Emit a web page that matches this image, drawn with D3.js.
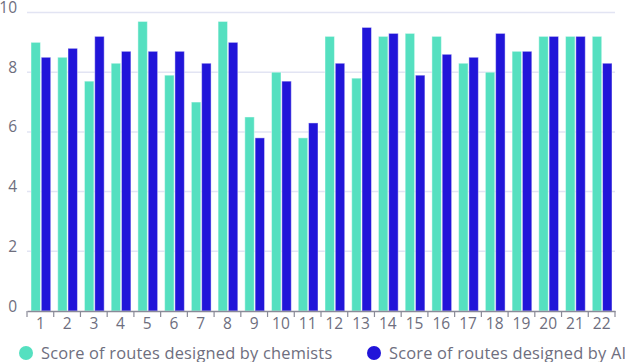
<!DOCTYPE html>
<html>
<head>
<meta charset="UTF-8">
<style>
body { margin: 0; background: white; }
text { font-family: "Open Sans", sans-serif; fill: #6e6e7e; }
</style>
</head>
<body>
<script src="https://d3js.org/d3.v7.min.js"></script>
<script>

// data
var routes = ['1','2','3','4','5','6','7','8','9','10','11','12','13','14','15','16','17','18','19','20','21','22']
var chemists = [9.0, 8.5, 7.7, 8.3, 9.7, 7.9, 7.0, 9.7, 6.5, 8.0, 5.8, 9.2, 7.8, 9.2, 9.3, 9.2, 8.3, 8.0, 8.7, 9.2, 9.2, 9.2]
var ai = [8.5, 8.8, 9.2, 8.7, 8.7, 8.7, 8.3, 9.0, 5.8, 7.7, 6.3, 8.3, 9.5, 9.3, 7.9, 8.6, 8.5, 9.3, 8.7, 9.2, 9.2, 8.3]
var yTicks = [0, 2, 4, 6, 8, 10]
var seriesNames = ['Score of routes designed by chemists', 'Score of routes designed by AI']
var colors = ['#55e0c0', '#2115d9']

var svgWidth = 625,
    svgHeight = 362,
    margin = {top: 12.5, bottom: 51, left: 27, right: 10}

var svg = d3.select('body').append('svg')
    .attr('width', svgWidth)
    .attr('height', svgHeight)

var x = d3.scaleBand()
    .domain(routes)
    .range([margin.left, svgWidth - margin.right])

var inner = d3.scaleBand()
    .domain([0, 1])
    .range([4, x.bandwidth() - 3])
    .paddingInner(0.08)

var y = d3.scaleLinear()
    .domain([0, 10])
    .range([svgHeight - margin.bottom, margin.top])

// gridlines
svg.append('g')
  .selectAll('line')
  .data(yTicks.filter(d => d > 0))
  .join('line')
    .attr('x1', margin.left)
    .attr('x2', svgWidth - margin.right)
    .attr('y1', d => y(d))
    .attr('y2', d => y(d))
    .attr('stroke', '#e2e4f3')
    .attr('stroke-width', 1.5)

// y labels
svg.append('g')
  .selectAll('text')
  .data(yTicks)
  .join('text')
    .attr('x', 17)
    .attr('y', d => y(d) + 0.5)
    .attr('text-anchor', 'end')
    .attr('font-size', 15.5)
    .text(d => d)

// bars
var groups = svg.append('g')
  .selectAll('g')
  .data(routes)
  .join('g')
    .attr('transform', d => 'translate(' + x(d) + ',0)')

groups.selectAll('rect')
  .data((d, i) => [chemists[i], ai[i]])
  .join('rect')
    .attr('x', (d, j) => inner(j))
    .attr('width', inner.bandwidth())
    .attr('y', d => y(d))
    .attr('height', d => y(0) - y(d))
    .attr('fill', (d, j) => colors[j])
    .attr('stroke', 'rgba(255,255,255,0.45)')
    .attr('stroke-width', 1)

// x axis
var xAxis = d3.axisBottom(x).tickSize(0).tickPadding(7)
var gx = svg.append('g')
    .attr('transform', 'translate(0,' + y(0) + ')')
    .call(xAxis)
gx.select('.domain').attr('stroke', '#8a8a98').attr('stroke-width', 1.5)
gx.selectAll('text')
    .attr('font-size', 15.5)
    .attr('font-family', '"Open Sans", sans-serif')
    .attr('fill', '#6e6e7e')

// tick marks at band boundaries
svg.append('g')
  .selectAll('line')
  .data(routes.concat(['end']))
  .join('line')
    .attr('x1', (d, i) => i < routes.length ? x(d) : x.range()[1])
    .attr('x2', (d, i) => i < routes.length ? x(d) : x.range()[1])
    .attr('y1', y(0))
    .attr('y2', y(0) + 6)
    .attr('stroke', '#8a8a98')
    .attr('stroke-width', 1.2)

// legend
var legendX = [26, 374]
var legend = svg.append('g')
  .selectAll('g')
  .data(seriesNames)
  .join('g')
    .attr('transform', (d, i) => 'translate(' + legendX[i] + ',353)')

legend.append('circle')
    .attr('r', 7)
    .attr('fill', (d, i) => colors[i])

legend.append('text')
    .attr('x', 15)
    .attr('y', 5.5)
    .attr('font-size', 16.4)
    .attr('letter-spacing', 0.2)
    .text(d => d)

</script>
</body>
</html>
